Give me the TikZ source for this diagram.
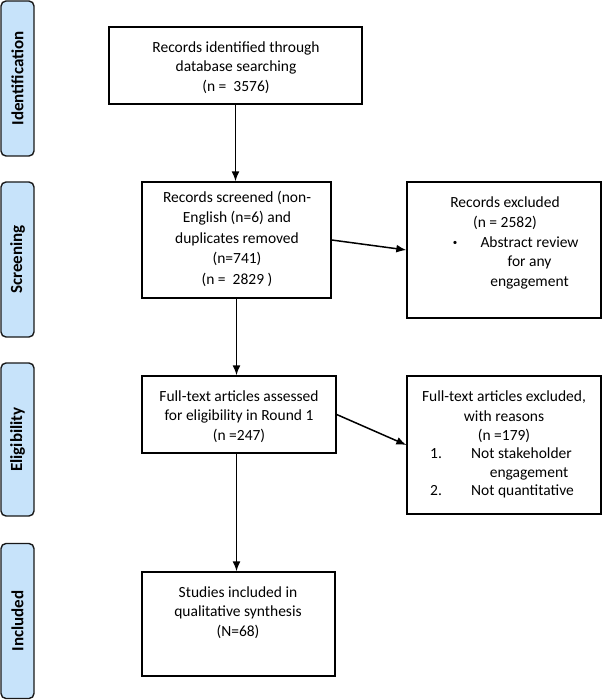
\documentclass[tikz,border=0pt]{standalone}
\usepackage{fontspec}
\setmainfont{Carlito}
\usetikzlibrary{arrows.meta}
\definecolor{sidefill}{RGB}{199,227,250}
\begin{document}
\begin{tikzpicture}[x=1pt,y=-1pt,
  box/.style={draw=black, line width=1.4pt, inner sep=0pt},
  side/.style={draw=black!90, fill=sidefill, rounded corners=5pt, line width=1.4pt, inner sep=0pt, minimum width=33pt},
  sidetxt/.style={rotate=90, inner sep=0pt, font=\fontsize{17}{20}\selectfont\bfseries},
  txt/.style={align=center, inner sep=0pt, font=\fontsize{15.5}{19.5}\selectfont},
  ln/.style={inner sep=0pt, anchor=mid, font=\fontsize{15.5}{19.5}\selectfont},
  arr/.style={line width=1.5pt, -{Latex[length=10pt,width=8pt]}}
]
\useasboundingbox (0,0) rectangle (602,700);
% side labels
\node[side, minimum height=155pt] (s1) at (17.5,78.5) {};
\node[sidetxt] (s1t) at (s1.center) {Identification};
\node[side, minimum height=155pt] (s2) at (17.5,259.5) {};
\node[sidetxt] (s2t) at (s2.center) {Screening};
\node[side, minimum height=153pt] (s3) at (17.5,439.5) {};
\node[sidetxt] (s3t) at (s3.center) {Eligibility};
\node[side, minimum height=155pt] (s4) at (17.5,621) {};
\node[sidetxt] (s4t) at (s4.center) {Included};
% boxes
\node[box, minimum width=253pt, minimum height=77pt] (b1) at (235.5,65.5) {};
\node[box, minimum width=189pt, minimum height=116pt] (b2) at (236.5,240) {};
\node[box, minimum width=194pt, minimum height=136pt] (b3) at (504,250) {};
\node[box, minimum width=194pt, minimum height=77pt] (b4) at (239,414.5) {};
\node[box, minimum width=194pt, minimum height=138pt] (b5) at (504,445) {};
\node[box, minimum width=193pt, minimum height=104pt] (b6) at (238.5,624) {};
% texts
\node[txt] (t1) at (236,67.5) {Records identified through\\database searching\\(n = \ 3576)};
\node[txt, font=\fontsize{15.5}{20.5}\selectfont] (t2) at (237,238.5) {Records screened (non-\\English (n=6) and\\duplicates removed\\(n=741)\\(n = \ 2829 )};
\node[txt] (t3a) at (505,213) {Records excluded\\(n = 2582)};
\node[ln, font=\fontsize{9}{10}\selectfont] (t3b) at (455,243) {•};
\node[txt] (t3c) at (529.5,262.5) {Abstract review\\for any\\engagement};
\node[txt] (t4) at (239,416.5) {Full-text articles assessed\\for eligibility in Round 1\\(n =247)};
\node[txt] (t5a) at (504,417) {Full-text articles excluded,\\with reasons\\(n =179)};
\node[ln, anchor=mid west] (t5b) at (430,456) {1.};
\node[ln] (t5c) at (521.5,456) {Not stakeholder};
\node[ln] (t5d) at (529,475) {engagement};
\node[ln, anchor=mid west] (t5e) at (430,493) {2.};
\node[ln] (t5f) at (522.5,493) {Not quantitative};
\node[txt] (t6) at (238,612.5) {Studies included in\\qualitative synthesis\\(N=68)};
% arrows
\draw[arr] (b1.south) -- (b1.south |- b2.north);
\draw[arr] (b2.south) -- (b2.south |- b4.north);
\draw[arr] (b2.south |- b4.south) -- (b2.south |- b6.north);
\draw[arr] (b2.east) -- (b3.west);
\draw[arr] (b4.east) -- (b5.west);
\end{tikzpicture}
\end{document}
